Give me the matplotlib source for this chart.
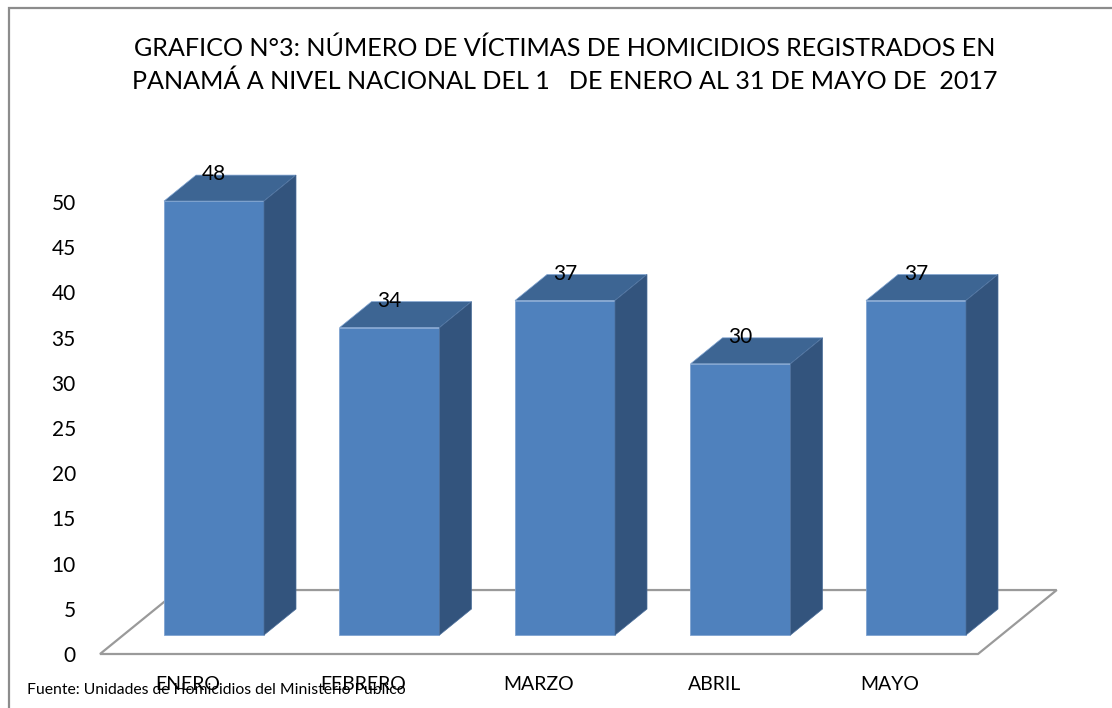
import matplotlib
matplotlib.use("Agg")
import matplotlib.pyplot as plt
from matplotlib.patches import Polygon, Rectangle
import numpy as np

# ---- data ----
categories = ["ENERO", "FEBRERO", "MARZO", "ABRIL", "MAYO"]
values = [48, 34, 37, 30, 37]
yticks = [0, 5, 10, 15, 20, 25, 30, 35, 40, 45, 50]
title_lines = ["GRAFICO N°3: NÚMERO DE VÍCTIMAS DE HOMICIDIOS REGISTRADOS EN",
               "PANAMÁ A NIVEL NACIONAL DEL 1   DE ENERO AL 31 DE MAYO DE  2017"]
source = "Fuente: Unidades de Homicidios del Ministerio Publico"

plt.rcParams['font.family'] = ['Lato', 'DejaVu Sans']

W, H = 1112, 708
fig = plt.figure(figsize=(W / 100, H / 100), dpi=100)

# outer frame
fig.patches.append(Rectangle((8.5 / W, -0.2), 1.5, (H - 7.5) / H + 0.2,
                             transform=fig.transFigure, fill=False,
                             edgecolor="#8c8c8c", linewidth=1.6))

# axes placed in pixel terms
px_per_unit_y = 9.04
x0_px, x1_px = 80, 1100
cat_step_px = 175.5
cat0_px = 214
bottom_px = H - 654
ymax = 55
ax = fig.add_axes([x0_px / W, bottom_px / H, (x1_px - x0_px) / W,
                   ymax * px_per_unit_y / H])
ax.set_xlim((x0_px - cat0_px) / cat_step_px, (x1_px - cat0_px) / cat_step_px)
ax.set_ylim(0, ymax)
for s in ax.spines.values():
    s.set_visible(False)
ax.patch.set_visible(False)

# 3D geometry in data units
w = 100 / cat_step_px          # bar width
ddx = 32 / cat_step_px         # depth shift in x
ddy = 26 / px_per_unit_y       # depth shift in y
base = 2.1                     # bar front bottom above floor front edge
fshift = base / ddy * ddx      # x shift between floor front edge and bar front

x = np.arange(len(categories))

# floor
fl = (-114 / cat_step_px)
fr = (978 - cat0_px) / cat_step_px
back_y = 2 * base + ddy
back_dx = 2 * fshift + ddx
floor = Polygon([(fl, 0), (fr, 0), (fr + back_dx, back_y), (fl + back_dx, back_y)],
                closed=True, facecolor="white", edgecolor="#9a9a9a",
                linewidth=1.6, zorder=1, clip_on=False)
ax.add_patch(floor)

front_c = "#4f81bd"
top_c = "#3d6593"
side_c = "#33547d"
edge_c = "#7fa3d1"

ax.bar(x, values, width=w, bottom=base, color=front_c, edgecolor=edge_c,
       linewidth=0.6, zorder=3, clip_on=False)
for xi, v in zip(x, values):
    l, r = xi - w / 2, xi + w / 2
    t = base + v
    top = Polygon([(l, t), (r, t), (r + ddx, t + ddy), (l + ddx, t + ddy)],
                  closed=True, facecolor=top_c, edgecolor=edge_c, linewidth=0.5,
                  zorder=3, clip_on=False)
    side = Polygon([(r, base), (r + ddx, base + ddy), (r + ddx, t + ddy), (r, t)],
                   closed=True, facecolor=side_c, edgecolor="#4a6d99", linewidth=0.5,
                   zorder=3, clip_on=False)
    ax.add_patch(top)
    ax.add_patch(side)
    ax.text(xi, t + ddy + 0.1, f"{v}", ha="center", va="center", fontsize=15,
            color="black", zorder=5, clip_on=False)

# axes ticks
ax.set_yticks(yticks)
ax.set_yticklabels([str(t) for t in yticks], fontsize=15)
ax.tick_params(axis="y", length=0, pad=3)
ax.set_xticks(x - fshift - 0.015)
ax.set_xticklabels(categories, fontsize=14)
ax.tick_params(axis="x", length=0, pad=16)

# title with width fitted
fig.canvas.draw()
renderer = fig.canvas.get_renderer()
t1 = fig.text(565 / W, 1 - 48 / H, title_lines[0], ha="center", va="center",
              fontsize=20, color="black")
bb = t1.get_window_extent(renderer)
fs = 20 * 862 / bb.width
t1.set_fontsize(fs)
fig.text(565 / W, 1 - 81 / H, title_lines[1], ha="center", va="center",
         fontsize=fs, color="black")

src = fig.text(27 / W, 1 - 690 / H, source, ha="left", va="center",
               fontsize=11, color="black")
bb = src.get_window_extent(renderer)
src.set_fontsize(11 * 378 / bb.width)

fig.savefig("out.png", dpi=100)
